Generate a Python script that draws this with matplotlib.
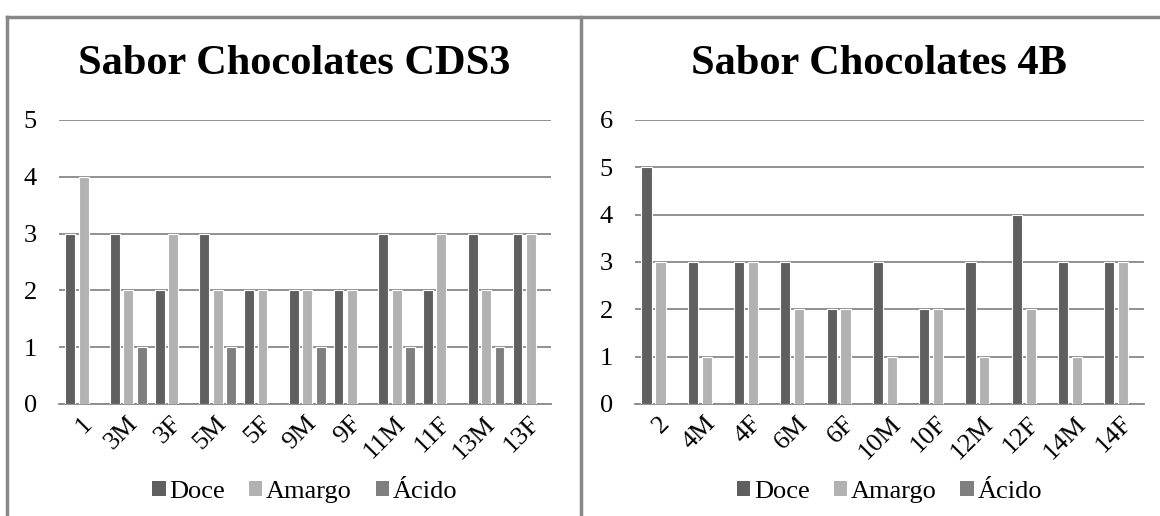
import matplotlib
matplotlib.use('Agg')
import matplotlib.pyplot as plt
import numpy as np

plt.rcParams['font.family'] = ['Liberation Serif', 'DejaVu Serif']

series = ['Doce', 'Amargo', 'Ácido']
colors = ['#5f5f5f', '#b2b2b2', '#7f7f7f']

cats_cds3 = ['1', '3M', '3F', '5M', '5F', '9M', '9F', '11M', '11F', '13M', '13F']
doce_cds3 = [3, 3, 2, 3, 2, 2, 2, 3, 2, 3, 3]
amargo_cds3 = [4, 2, 3, 2, 2, 2, 2, 2, 3, 2, 3]
acido_cds3 = [0, 1, 0, 1, 0, 1, 0, 1, 0, 1, 0]

cats_4b = ['2', '4M', '4F', '6M', '6F', '10M', '10F', '12M', '12F', '14M', '14F']
doce_4b = [5, 3, 3, 3, 2, 3, 2, 3, 4, 3, 3]
amargo_4b = [3, 1, 3, 2, 2, 1, 2, 1, 2, 1, 3]
acido_4b = [0, 0, 0, 0, 0, 0, 0, 0, 0, 0, 0]

W, H = 1160, 516
fig = plt.figure(figsize=(W / 100, H / 100), dpi=100)

frame = '#888888'
# panel frames
fig.add_artist(plt.Line2D([7 / W, 1], [1 - 17 / H] * 2, color=frame, lw=2.5))
fig.add_artist(plt.Line2D([7 / W] * 2, [0, 1 - 17 / H], color=frame, lw=2.5))
fig.add_artist(plt.Line2D([581 / W] * 2, [0, 1 - 17 / H], color=frame, lw=2.5))


def draw(rect, cats, vals, ymax, title, tx):
    ax = fig.add_axes(rect)
    x = np.arange(len(cats))
    w = 0.22
    for i, (v, c, name) in enumerate(zip(vals, colors, series)):
        ax.bar(x + (i - 1) * 0.3 + 0.05, v, w, color=c, edgecolor='white',
               linewidth=0.8, label=name, zorder=3)
    ax.set_xlim(-0.5, len(cats) - 0.5)
    ax.set_ylim(0, ymax)
    ax.set_yticks(range(ymax + 1))
    ax.yaxis.grid(True, color=frame, lw=1.3, zorder=0)
    ax.set_axisbelow(True)
    for s in ['top', 'right', 'left']:
        ax.spines[s].set_visible(False)
    ax.spines['bottom'].set_color(frame)
    ax.spines['bottom'].set_linewidth(1.3)
    ax.tick_params(length=0, labelsize=19, pad=16)
    ax.tick_params(axis='x', pad=6)
    ax.set_xticks(x)
    ax.set_xticklabels(cats, rotation=45, ha='right', rotation_mode='anchor')
    fig.text(tx, 1 - 64 / H, title, ha='center', va='center',
             fontsize=30.5, fontweight='bold')
    leg = ax.legend(loc='center', bbox_to_anchor=(0.5, -0.31), ncol=3,
                    frameon=False, fontsize=19, handlelength=0.5,
                    handleheight=0.5, handletextpad=0.15, columnspacing=0.9)
    for p in leg.get_patches():
        p.set_edgecolor('none')
    return ax


draw([59 / W, 112 / H, 492 / W, 284 / H], cats_cds3,
     [doce_cds3, amargo_cds3, acido_cds3], 5, 'Sabor Chocolates CDS3', 294 / W)
draw([635 / W, 112 / H, 509 / W, 284 / H], cats_4b,
     [doce_4b, amargo_4b, acido_4b], 6, 'Sabor Chocolates 4B', 879 / W)

fig.savefig('out.png', dpi=100)
